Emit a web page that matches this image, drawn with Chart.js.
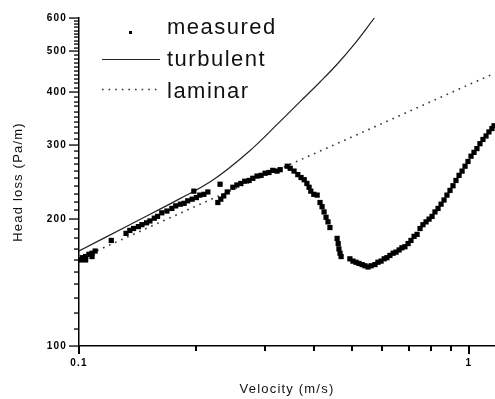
<!DOCTYPE html>
<html>
<head>
<meta charset="utf-8">
<script src="https://cdn.jsdelivr.net/npm/chart.js@4.4.1/dist/chart.umd.min.js"></script>
<style>
  html, body { margin: 0; padding: 0; background: #fff; }
  #wrap { width: 495px; height: 399px; }
</style>
</head>
<body>
<div id="wrap"><canvas id="c" width="495" height="399"></canvas></div>
<script>
// head loss vs velocity (log-log)
const measuredV = [0.101, 0.102, 0.104, 0.104, 0.106, 0.108, 0.108, 0.110,
  0.121,
  0.132, 0.135, 0.138, 0.142, 0.145, 0.149, 0.152, 0.156, 0.159, 0.163,
  0.168,
  0.173, 0.177, 0.182, 0.186, 0.190, 0.195, 0.197, 0.200, 0.204, 0.209, 0.214,
  0.227, 0.230, 0.231, 0.235, 0.240,
  0.248, 0.254, 0.260, 0.266, 0.273, 0.279, 0.286, 0.293, 0.300,
  0.307, 0.314, 0.322, 0.328,
  0.342, 0.348, 0.356, 0.364, 0.371,
  0.378, 0.384, 0.389, 0.393, 0.400, 0.408,
  0.415, 0.420, 0.425, 0.430, 0.435, 0.440,
  0.459, 0.462, 0.464, 0.467, 0.470,
  0.495, 0.504, 0.513, 0.522, 0.532, 0.541, 0.551, 0.561,
  0.574, 0.584, 0.595, 0.606, 0.616, 0.627, 0.639, 0.650, 0.662, 0.673, 0.685,
  0.698, 0.710, 0.723, 0.736, 0.749, 0.762, 0.776, 0.790, 0.804, 0.818, 0.833,
  0.848, 0.863, 0.878, 0.894, 0.910, 0.926, 0.943, 0.960, 0.977, 0.994, 1.012,
  1.030, 1.048, 1.067, 1.086, 1.106, 1.125, 1.145, 1.159];
const measuredH = [160, 162, 163, 160, 165, 166, 163, 168,
  178,
  185, 188, 190, 192, 194, 196, 198, 201, 203, 207,
  209,
  212, 215, 217, 218, 221, 223, 233, 225, 228, 229, 232,
  219, 242, 223, 227, 232,
  238, 241, 243, 246, 247, 250, 253, 254, 257,
  258, 261, 260, 262,
  267, 264, 260, 255, 251,
  248, 243, 238, 233, 229, 228,
  219, 214, 208, 202, 197, 191,
  180, 175, 170, 166, 163,
  161, 159, 158, 157, 156, 155, 154, 155,
  156, 158, 159, 161, 162, 164, 166, 167, 169, 171, 172,
  175, 178, 182, 184, 190, 194, 197, 200, 203, 208, 212,
  217, 222, 228, 234, 240, 247, 254, 260, 267, 274, 282,
  288, 294, 302, 309, 315, 322, 328, 333];

const turbulentV = [0.1, 0.135, 0.182, 0.221, 0.270, 0.328, 0.369, 0.415, 0.459, 0.504, 0.572];
const turbulentH = [168, 194, 224, 248, 287, 341, 380, 423, 466, 515, 600];

const laminarV = [0.1, 0.2, 0.5, 1, 1.166];
const laminarH = [161, 215, 313, 417, 444];

const xMajor = [0.1, 1];
const xMinor = [0.2, 0.3, 0.4, 0.5, 0.6, 0.7, 0.8, 0.9];
const yLabels = [100, 200, 300, 400, 500, 600];
const yMinorStep = 10;

const toPts = (xs, ys) => xs.map((x, i) => ({ x: x, y: ys[i] }));

function yTickValues() {
  const t = [];
  for (let v = yLabels[0]; v <= yLabels[yLabels.length - 1]; v += yMinorStep) t.push(v);
  return t;
}

// tick marks: long for labelled values, short for the rest
const tickMarks = {
  id: 'tickMarks',
  beforeDraw(chart) { chart.ctx.letterSpacing = '1.2px'; },
  afterDraw(chart) {
    const ctx = chart.ctx, a = chart.chartArea;
    const xs = chart.scales.x, ys = chart.scales.y;
    ctx.save();
    ctx.fillStyle = '#000';
    xMajor.concat(xMinor).forEach(v => {
      const px = Math.round(xs.getPixelForValue(v));
      const len = xMajor.includes(v) ? 8 : 5;
      ctx.fillRect(px - 1, Math.round(a.bottom), 2, len);
    });
    yTickValues().forEach(v => {
      const py = Math.round(ys.getPixelForValue(v));
      const len = yLabels.includes(v) ? 10 : 5;
      ctx.fillRect(a.left - len, py - 0.6, len, 1.3);
    });
    ctx.restore();
  }
};

// legend sits inside the plot, top left
const insideLegend = {
  id: 'insideLegend',
  afterDraw(chart) {
    const ctx = chart.ctx;
    const ds = chart.data.datasets;
    const textX = 167, rows = [34, 66, 98];
    ctx.save();
    ctx.letterSpacing = '1.5px';
    ctx.font = "22px 'Liberation Sans', Arial, sans-serif";
    ctx.fillStyle = '#111';
    ctx.textBaseline = 'alphabetic';
    ds.forEach((d, i) => ctx.fillText(d.label, textX, rows[i]));
    ctx.fillStyle = '#000';
    ctx.fillRect(129, 31, 3, 3);
    ctx.strokeStyle = ds[1].borderColor;
    ctx.lineWidth = 1.2;
    ctx.beginPath(); ctx.moveTo(102, 59.5); ctx.lineTo(160, 59.5); ctx.stroke();
    ctx.strokeStyle = ds[2].borderColor;
    ctx.lineWidth = ds[2].borderWidth;
    ctx.setLineDash(ds[2].borderDash);
    ctx.beginPath(); ctx.moveTo(102, 89.5); ctx.lineTo(158, 89.5); ctx.stroke();
    ctx.restore();
  }
};

const tickFont = { family: "'Liberation Sans', Arial, sans-serif", size: 10, weight: 'bold' };
const titleFont = { family: "'Liberation Sans', Arial, sans-serif", size: 13 };

new Chart(document.getElementById('c').getContext('2d'), {
  type: 'scatter',
  data: {
    datasets: [{
      label: 'measured',
      data: toPts(measuredV, measuredH),
      pointStyle: 'rect',
      pointRadius: 3.7,
      pointBorderWidth: 0,
      backgroundColor: '#000',
      borderColor: '#000'
    }, {
      label: 'turbulent',
      data: toPts(turbulentV, turbulentH),
      showLine: true,
      pointRadius: 0,
      borderColor: '#222',
      borderWidth: 1.2,
      tension: 0.4
    }, {
      label: 'laminar',
      data: toPts(laminarV, laminarH),
      showLine: true,
      pointRadius: 0,
      borderColor: '#333',
      borderWidth: 1.6,
      borderDash: [1.6, 5]
    }]
  },
  options: {
    responsive: false,
    animation: false,
    events: [],
    layout: { autoPadding: false, padding: { top: 15, right: 0, left: 0, bottom: 0 } },
    plugins: { legend: { display: false }, tooltip: { enabled: false } },
    scales: {
      x: {
        type: 'logarithmic',
        min: 0.1,
        max: 1.166,
        bounds: 'data',
        afterFit: s => { s.height = 53; s.paddingRight = 0; s.paddingLeft = 0; },
        afterBuildTicks: s => { s.ticks = xMajor.map(v => ({ value: v })); },
        grid: { display: false, drawTicks: false },
        border: { display: true, color: '#000', width: 1.5 },
        ticks: {
          autoSkip: false, maxRotation: 0, padding: 11, color: '#000', font: tickFont,
          callback: v => String(v)
        },
        title: { display: true, text: 'Velocity (m/s)', color: '#111', font: titleFont, padding: { top: 0, bottom: 2 } }
      },
      y: {
        type: 'logarithmic',
        min: 100,
        max: 600,
        bounds: 'data',
        afterFit: s => { s.width = 79; },
        afterBuildTicks: s => { s.ticks = yLabels.map(v => ({ value: v })); },
        grid: { display: false, drawTicks: false },
        border: { display: true, color: '#000', width: 1.5 },
        ticks: {
          autoSkip: false, padding: 12, color: '#000', font: tickFont,
          callback: v => String(v)
        },
        title: { display: true, text: 'Head loss (Pa/m)', color: '#111', font: titleFont, padding: { top: 11, bottom: 0 } }
      }
    }
  },
  plugins: [tickMarks, insideLegend]
});
</script>
</body>
</html>
